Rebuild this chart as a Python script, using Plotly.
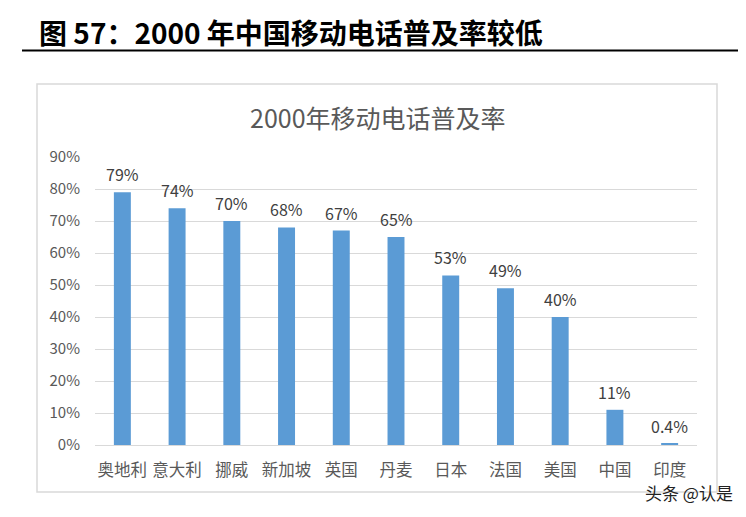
import plotly.graph_objects as go

categories = ["奥地利", "意大利", "挪威", "新加坡", "英国", "丹麦", "日本", "法国", "美国", "中国", "印度"]
values_pct = [79, 74, 70, 68, 67, 65, 53, 49, 40, 11, 0.4]
y_ticks = [0, 10, 20, 30, 40, 50, 60, 70, 80, 90]
page_title = "图 57：2000 年中国移动电话普及率较低"
chart_title = "2000年移动电话普及率"
watermark = "头条 @认是"

OFF = 8  # browser body margin
W, H = 746 - OFF, 517 - OFF
L, R, T, B = 95 - OFF, 697 - OFF, 157 - OFF, 445 - OFF  # plot area in figure pixels


def px(x):
    return (x - OFF - L) / (R - L)


def py(y):
    return (B - (y - OFF)) / (B - T)


FONT = "Noto Sans CJK SC, Noto Sans, sans-serif"
GRAY = "#595959"

vals = [v / 100 for v in values_pct]
labels = [(f"{v:.1f}%" if v < 1 else f"{v:.0f}%") for v in values_pct]

fig = go.Figure()
fig.add_trace(go.Bar(x=categories, y=vals, marker=dict(color="#5B9BD5", line=dict(width=0)),
                     hoverinfo="skip"))

for c, v, lab in zip(categories, vals, labels):
    fig.add_annotation(x=c, y=v, text=lab, showarrow=False, yshift=18,
                       font=dict(family=FONT, size=16, color="#404040"))

fig.update_layout(
    width=W, height=H,
    margin=dict(l=L, r=W - R, t=T, b=H - B, pad=0),
    paper_bgcolor="white", plot_bgcolor="white",
    showlegend=False,
    bargap=0.69,
    font=dict(family=FONT, color=GRAY),
    xaxis=dict(showgrid=False, showline=True, linecolor="#d9d9d9", linewidth=1,
               tickfont=dict(family=FONT, size=16.5, color=GRAY), ticks="",
               ticklabelstandoff=10, fixedrange=True),
    yaxis=dict(range=[0, 0.9001], tickvals=[t / 100 for t in y_ticks],
               ticktext=[f"{t}%" for t in y_ticks],
               showgrid=True, gridcolor="#d9d9d9", gridwidth=1, zeroline=False,
               showline=False, ticks="", ticklabelstandoff=14,
               tickfont=dict(family=FONT, size=15, color=GRAY), fixedrange=True),
)

shapes = [
    dict(type="rect", xref="paper", yref="paper", x0=px(37), x1=px(717), y0=py(492), y1=py(84),
         line=dict(color="#d9d9d9", width=1.5), fillcolor="rgba(0,0,0,0)", layer="below"),
    dict(type="line", xref="paper", yref="paper", x0=px(22), x1=px(746), y0=py(50.5), y1=py(50.5),
         line=dict(color="black", width=2)),
]
fig.update_layout(shapes=shapes)

fig.add_annotation(xref="paper", yref="paper", x=px(37), y=py(32), xanchor="left", yanchor="middle",
                   text=f"<b>{page_title}</b>", showarrow=False,
                   font=dict(family=FONT, size=28, color="black"))
fig.add_annotation(xref="paper", yref="paper", x=px(378), y=py(117), xanchor="center", yanchor="middle",
                   text=chart_title, showarrow=False,
                   font=dict(family=FONT, size=25, color=GRAY))
fig.add_annotation(xref="paper", yref="paper", x=px(735), y=py(492), xanchor="right", yanchor="middle",
                   text=watermark, showarrow=False,
                   font=dict(family=FONT, size=17, color="#222222"))

fig.write_html("out.html")
